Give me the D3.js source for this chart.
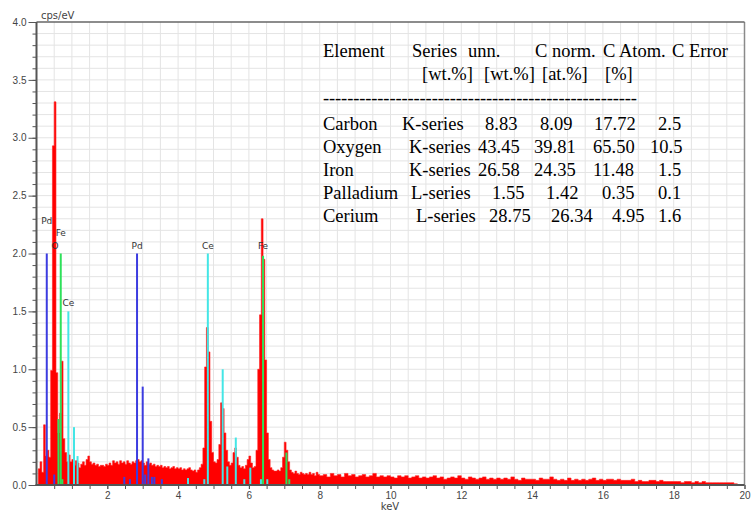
<!DOCTYPE html>
<html>
<head>
<meta charset="utf-8">
<script src="https://cdn.jsdelivr.net/npm/d3@7"></script>
<style>
  body { margin: 0; background: #fff; }
  svg { display: block; }
</style>
</head>
<body>
<div id="chart"></div>
<script>
//////////////////////////////////////////////////////////////////////////////
// Data

// red spectrum, 0.05 keV channels from 0.05 to 8.00 keV (cps/eV)
var lowStart = 0.05, lowStep = 0.05;
var lowCps = [
  0.14,
  0.20,0.11,0.52,0.25,0.30,0.24,0.99,2.93,3.31,0.97,
  0.45,0.62,1.07,0.40,0.28,0.20,0.26,0.20,0.22,0.17,
  0.21,0.19,0.15,0.18,0.20,0.17,0.22,0.25,0.20,0.18,
  0.19,0.17,0.18,0.16,0.17,0.17,0.16,0.18,0.17,0.19,
  0.17,0.21,0.19,0.20,0.18,0.21,0.19,0.20,0.18,0.21,
  0.19,0.18,0.20,0.19,0.21,0.22,0.20,0.21,0.19,0.17,
  0.20,0.18,0.19,0.17,0.18,0.16,0.17,0.16,0.17,0.15,
  0.16,0.15,0.16,0.14,0.15,0.16,0.14,0.15,0.14,0.15,
  0.13,0.14,0.13,0.14,0.15,0.13,0.12,0.13,0.11,0.13,
  0.15,0.18,0.32,1.02,1.36,1.15,0.55,0.28,0.20,0.19,
  0.22,0.35,0.71,0.66,0.45,0.30,0.20,0.17,0.19,0.28,
  0.32,0.24,0.17,0.15,0.16,0.14,0.17,0.22,0.25,0.19,
  0.15,0.16,0.30,1.00,1.47,2.30,1.95,1.08,0.45,0.22,
  0.15,0.13,0.12,0.12,0.13,0.12,0.15,0.24,0.37,0.30,
  0.20,0.13,0.11,0.10,0.12,0.10,0.09,0.11,0.10,0.09,
  0.10,0.09,0.11,0.09,0.10,0.08,0.11,0.09
];

// red spectrum, 0.1 keV channels from 8.0 to 19.8 keV
var highStart = 8.0, highStep = 0.1;
var highCps = [
  0.08,0.09,0.07,0.10,0.08,0.09,0.07,0.10,0.08,0.09,
  0.07,0.08,0.09,0.07,0.08,0.10,0.07,0.08,0.07,0.08,
  0.07,0.06,0.08,0.07,0.08,0.06,0.07,0.08,0.06,0.07,
  0.06,0.07,0.08,0.06,0.07,0.05,0.06,0.07,0.06,0.08,
  0.06,0.05,0.07,0.06,0.05,0.06,0.07,0.05,0.06,0.05,
  0.06,0.05,0.06,0.05,0.07,0.05,0.04,0.06,0.05,0.05,
  0.05,0.04,0.06,0.05,0.05,0.07,0.05,0.04,0.05,0.04,
  0.06,0.04,0.05,0.04,0.05,0.04,0.05,0.06,0.04,0.05,
  0.04,0.05,0.05,0.04,0.05,0.04,0.04,0.04,0.05,0.03,
  0.04,0.03,0.03,0.04,0.04,0.03,0.04,0.03,0.03,0.03,
  0.03,0.03,0.02,0.03,0.03,0.02,0.03,0.02,0.03,0.02,
  0.02,0.02,0.02,0.02,0.02,0.02,0.02,0.01
];

// element marker lines: [keV, height]
var pdLines = [[0.29,2.0],[0.50,0.09],[2.48,0.07],[2.64,0.05],[2.84,2.0],[3.00,0.85],
               [3.07,0.09],[3.16,0.23],[3.26,0.07],[3.33,0.07],[3.54,0.05]];
var feLines = [[0.62,0.57],[0.685,2.0],[0.73,0.05],[6.40,1.98],[7.06,0.28],[7.14,0.05]];
var ceLines = [[0.90,1.5],[1.06,0.5],[1.16,0.25],[4.28,0.06],[4.74,0.05],[4.84,2.0],
               [5.26,1.0],[5.39,0.16],[5.63,0.41],[5.87,0.05],[6.04,0.15],[6.34,0.05],[6.52,0.05]];

// line labels: [text, keV, height, stack level]
var lineLabels = [["Pd",0.29,2.0,2],["Fe",0.685,2.0,1],["O",0.525,2.0,0],["Ce",0.90,1.5,0],
                  ["Pd",2.84,2.0,0],["Ce",4.84,2.0,0],["Fe",6.40,2.0,0]];

// quantification table
var tableHeader1 = ["Element","Series","unn.","C norm.","C Atom.","C Error"];
var tableHeader2 = ["[wt.%]","[wt.%]","[at.%]","[%]"];
var tableRows = [
  ["Carbon","K-series","8.83","8.09","17.72","2.5"],
  ["Oxygen","K-series","43.45","39.81","65.50","10.5"],
  ["Iron","K-series","26.58","24.35","11.48","1.5"],
  ["Palladium","L-series","1.55","1.42","0.35","0.1"],
  ["Cerium","L-series","28.75","26.34","4.95","1.6"]
];

//////////////////////////////////////////////////////////////////////////////
// Setup

var width = 751, height = 513;
var xScale = d3.scaleLinear().domain([0, 20]).range([36.5, 744.5]);
var yScale = d3.scaleLinear().domain([0, 4]).range([485, 22]);

var svg = d3.select("#chart").append("svg")
    .attr("width", width)
    .attr("height", height)
    .style("font-family", "'DejaVu Sans', Verdana, sans-serif");

// grid
svg.append("g").selectAll("line")
    .data(d3.range(1, 40))
    .enter().append("line")
    .attr("x1", function(d) { return xScale(d * 0.5); })
    .attr("x2", function(d) { return xScale(d * 0.5); })
    .attr("y1", yScale(4)).attr("y2", yScale(0))
    .attr("stroke", "#e4e4e4").attr("stroke-width", 1);
svg.append("g").selectAll("line")
    .data(d3.range(1, 40))
    .enter().append("line")
    .attr("y1", function(d) { return yScale(d * 0.1); })
    .attr("y2", function(d) { return yScale(d * 0.1); })
    .attr("x1", xScale(0)).attr("x2", xScale(20))
    .attr("stroke", "#e4e4e4").attr("stroke-width", 1);

//////////////////////////////////////////////////////////////////////////////
// Spectrum

var bins = lowCps.map(function(v, i) { return { e: lowStart + i * lowStep, v: v }; })
    .concat(highCps.map(function(v, i) { return { e: highStart + i * highStep, v: v }; }));
bins.push({ e: highStart + highCps.length * highStep, v: 0 });

var area = d3.area()
    .x(function(d) { return xScale(d.e); })
    .y0(yScale(0))
    .y1(function(d) { return yScale(d.v); })
    .curve(d3.curveStepAfter);

svg.append("path")
    .datum(bins)
    .attr("d", area)
    .attr("fill", "#ff0000")
    .attr("stroke", "#ff2020")
    .attr("stroke-width", 0.6);

//////////////////////////////////////////////////////////////////////////////
// Marker lines

function drawLines(lines, color) {
    svg.append("g").selectAll("line")
        .data(lines)
        .enter().append("line")
        .attr("x1", function(d) { return xScale(d[0]); })
        .attr("x2", function(d) { return xScale(d[0]); })
        .attr("y1", yScale(0))
        .attr("y2", function(d) { return yScale(d[1]); })
        .attr("stroke", color)
        .attr("stroke-width", 2);
}
drawLines(pdLines, "#3c3ce0");
drawLines(ceLines, "#44e6e6");
drawLines(feLines, "#2ee05a");

svg.append("g").selectAll("text")
    .data(lineLabels)
    .enter().append("text")
    .attr("x", function(d) { return xScale(d[1]); })
    .attr("y", function(d) { return yScale(d[2]) - 5 - d[3] * 12.5; })
    .attr("text-anchor", "middle")
    .attr("font-size", 9)
    .attr("fill", "#333")
    .text(function(d) { return d[0]; });

//////////////////////////////////////////////////////////////////////////////
// Axes

function styleAxis(g) {
    g.selectAll("text").attr("fill", "#444").attr("font-size", 10);
    g.selectAll("line").attr("stroke", "#555");
    g.select(".domain").remove();
}

svg.append("g")
    .attr("transform", "translate(" + xScale(0) + ",0)")
    .call(d3.axisLeft(yScale).tickValues(d3.range(0, 41).map(function(d) { return d / 10; }))
          .tickSize(4).tickFormat(""))
    .call(styleAxis);
svg.append("g")
    .attr("transform", "translate(" + xScale(0) + ",0)")
    .call(d3.axisLeft(yScale).tickValues(d3.range(0, 9).map(function(d) { return d / 2; }))
          .tickSize(8).tickPadding(2).tickFormat(d3.format(".1f")))
    .call(styleAxis);

svg.append("g")
    .attr("transform", "translate(0," + yScale(0) + ")")
    .call(d3.axisBottom(xScale).tickValues(d3.range(1, 41).map(function(d) { return d / 2; }))
          .tickSize(4).tickFormat(""))
    .call(styleAxis);
svg.append("g")
    .attr("transform", "translate(0," + yScale(0) + ")")
    .call(d3.axisBottom(xScale).tickValues(d3.range(1, 11).map(function(d) { return d * 2; }))
          .tickSize(4).tickPadding(3).tickFormat(d3.format("d")))
    .call(styleAxis);

// frame
svg.append("line")
    .attr("x1", xScale(20)).attr("x2", xScale(20))
    .attr("y1", yScale(4)).attr("y2", yScale(0))
    .attr("stroke", "#8a8a8a").attr("stroke-width", 1.5);
svg.append("line")
    .attr("x1", xScale(0)).attr("x2", xScale(20))
    .attr("y1", yScale(4)).attr("y2", yScale(4))
    .attr("stroke", "#666").attr("stroke-width", 1.5);
svg.append("line")
    .attr("x1", xScale(0)).attr("x2", xScale(0))
    .attr("y1", yScale(4)).attr("y2", yScale(0) + 1)
    .attr("stroke", "#555").attr("stroke-width", 2);
svg.append("line")
    .attr("x1", xScale(0) - 1).attr("x2", xScale(20))
    .attr("y1", yScale(0)).attr("y2", yScale(0))
    .attr("stroke", "#555").attr("stroke-width", 2);

svg.append("text")
    .attr("x", 41).attr("y", 19)
    .attr("font-size", 10).attr("fill", "#444")
    .text("cps/eV");
svg.append("text")
    .attr("x", 390).attr("y", 510)
    .attr("text-anchor", "middle")
    .attr("font-size", 10).attr("fill", "#444")
    .text("keV");

//////////////////////////////////////////////////////////////////////////////
// Table

var table = svg.append("g")
    .style("font-family", "'Liberation Serif', 'Times New Roman', serif")
    .attr("font-size", 18.5)
    .attr("fill", "#000");

var head1X = [323, 412, 468, 535, 603, 672];
var head2X = [422, 484, 542, 605];
var colX = [
  [323, 402, 485, 540, 594, 658],
  [323, 409, 478, 534, 593, 650],
  [323, 409, 478, 534, 593, 658],
  [323, 411, 492, 546, 602, 658],
  [323, 416, 489, 551, 612, 658]
];

table.selectAll(".h1").data(tableHeader1).enter().append("text")
    .attr("x", function(d, i) { return head1X[i]; })
    .attr("y", 57)
    .text(function(d) { return d; });
table.selectAll(".h2").data(tableHeader2).enter().append("text")
    .attr("x", function(d, i) { return head2X[i]; })
    .attr("y", 80)
    .text(function(d) { return d; });
table.append("text")
    .attr("x", 323).attr("y", 104)
    .attr("textLength", 314)
    .text("----------------------------------------------------");

tableRows.forEach(function(row, r) {
    table.append("g").selectAll("text").data(row).enter().append("text")
        .attr("x", function(d, i) { return colX[r][i]; })
        .attr("y", 130 + r * 23)
        .text(function(d) { return d; });
});
</script>
</body>
</html>
